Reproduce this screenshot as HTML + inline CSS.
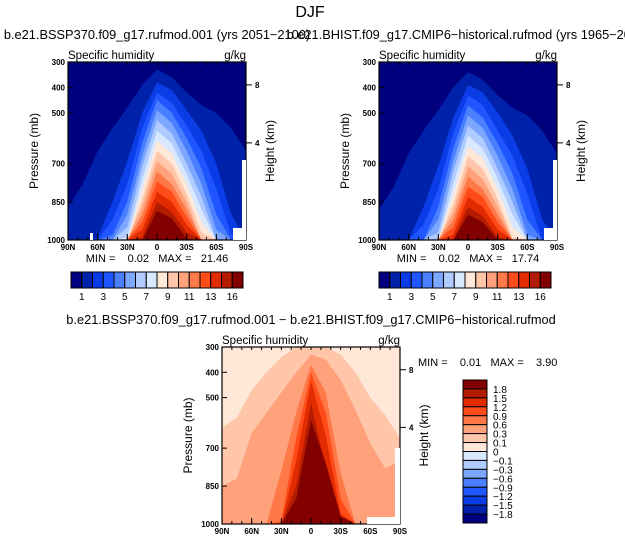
<!DOCTYPE html>
<html><head><meta charset="utf-8">
<style>
html,body{margin:0;padding:0;background:#fff;}
svg{display:block;font-family:"Liberation Sans",sans-serif;}
.pre{white-space:pre;}
</style></head>
<body>
<svg id="chart" width="625" height="545" viewBox="0 0 625 545" xmlns="http://www.w3.org/2000/svg"></svg>
<script>
// ---- data ----
const lats = [90,75,60,45,30,15,0,-15,-30,-45,-60,-75,-90];
const pressureTicks = [300,400,500,700,850,1000];
const latTicks = [90,60,30,0,-30,-60,-90];
const latTickLabels = ["90N","60N","30N","0","30S","60S","90S"];
const heightTicks = [{km:8,p:390},{km:4,p:618}];

const seqColors = ["#00007f","#0022aa","#0a3de6","#1f56ff","#4a80ff","#7da6ff","#b0cbff","#d7e8ff","#ffe8d8","#ffc6aa","#ffa27c","#ff7848","#ff4c18","#e32b00","#b41c00","#820000"];
const seqLabels = ["1","3","5","7","9","11","13","16"];

const ssp370Levels = [
 [870,780,650,560,480,390,330,360,420,470,500,560,650],
 [1000,1000,990,850,690,500,380,410,490,570,700,900,1000],
 [1000,1000,1000,920,780,560,420,460,550,650,800,980,1000],
 [1000,1000,1000,980,850,620,450,500,600,720,900,1000,1000],
 [1000,1000,1000,1000,900,670,490,540,650,780,960,1000,1000],
 [1000,1000,1000,1000,950,710,530,580,700,830,1000,1000,1000],
 [1000,1000,1000,1000,990,760,570,620,740,880,1000,1000,1000],
 [1000,1000,1000,1000,1000,800,610,660,780,930,1000,1000,1000],
 [1000,1000,1000,1000,1000,840,650,700,820,970,1000,1000,1000],
 [1000,1000,1000,1000,1000,870,690,740,850,1000,1000,1000,1000],
 [1000,1000,1000,1000,1000,900,730,780,880,1000,1000,1000,1000],
 [1000,1000,1000,1000,1000,930,770,810,910,1000,1000,1000,1000],
 [1000,1000,1000,1000,1000,960,810,850,940,1000,1000,1000,1000],
 [1000,1000,1000,1000,1000,990,850,890,970,1000,1000,1000,1000],
 [1000,1000,1000,1000,1000,1000,885,915,995,1000,1000,1000,1000]
];
const histLevels = [
 [880,790,660,570,490,400,340,370,430,480,510,570,660],
 [1000,1000,1000,870,710,520,390,420,500,590,720,920,1000],
 [1000,1000,1000,940,800,580,430,470,570,670,820,1000,1000],
 [1000,1000,1000,1000,870,640,470,520,620,740,920,1000,1000],
 [1000,1000,1000,1000,920,690,510,560,670,800,980,1000,1000],
 [1000,1000,1000,1000,970,730,550,600,720,850,1000,1000,1000],
 [1000,1000,1000,1000,1000,780,590,640,760,900,1000,1000,1000],
 [1000,1000,1000,1000,1000,820,630,680,800,950,1000,1000,1000],
 [1000,1000,1000,1000,1000,860,670,720,840,990,1000,1000,1000],
 [1000,1000,1000,1000,1000,890,710,760,870,1000,1000,1000,1000],
 [1000,1000,1000,1000,1000,920,750,800,900,1000,1000,1000,1000],
 [1000,1000,1000,1000,1000,950,790,830,930,1000,1000,1000,1000],
 [1000,1000,1000,1000,1000,980,830,870,960,1000,1000,1000,1000],
 [1000,1000,1000,1000,1000,1000,870,905,990,1000,1000,1000,1000],
 [1000,1000,1000,1000,1000,1000,900,930,1000,1000,1000,1000,1000]
];
const diffColors = ["#00007f","#0022aa","#0a3de6","#1f56ff","#4a80ff","#7da6ff","#b0cbff","#d7e8ff","#ffe8d8","#ffc6aa","#ffa27c","#ff7848","#ff4c18","#e32b00","#b41c00","#820000"];
const diffLabels = ["1.8","1.5","1.2","0.9","0.6","0.3","0.1","0","\u22120.1","\u22120.3","\u22120.6","\u22120.9","\u22121.2","\u22121.5","\u22121.8"];
const diffLevels = [
 [620,580,470,400,340,300,300,300,330,400,500,570,660],
 [850,820,640,560,480,400,330,350,430,550,680,780,750],
 [1000,1000,1000,1000,790,560,370,480,800,1000,1000,1000,1000],
 [1000,1000,1000,1000,990,660,400,560,900,1000,1000,1000,1000],
 [1000,1000,1000,1000,1000,750,435,650,960,1000,1000,1000,1000],
 [1000,1000,1000,1000,1000,850,520,780,1000,1000,1000,1000,1000],
 [1000,1000,1000,1000,1000,900,590,760,970,1000,1000,1000,1000]
];
const diffLevelColors = ["#ffc6aa","#ffa27c","#ff7848","#ff4c18","#e32b00","#b41c00","#820000"];

// ---- drawing ----
const NS="http://www.w3.org/2000/svg";
const svg=document.getElementById('chart');
function el(tag,attrs,parent){const e=document.createElementNS(NS,tag);for(const k in attrs)e.setAttribute(k,attrs[k]);(parent||svg).appendChild(e);return e;}
function txt(s,x,y,size,anchor,parent,extra){const t=el('text',Object.assign({x:x,y:y,'font-size':size,'text-anchor':anchor||'start',fill:'#000'},extra||{}),parent);t.textContent=s;return t;}

function panel(id,bx,by,w,h,levels,colors,bg,title,minmax,mmPos){
  const g=el('g',{});
  
  
  const xs=lat=>bx+(90-lat)/180*w;
  const ys=p=>by+(Math.min(p,1000)-300)/700*h;
  const clipId=id+'-clip';
  const cp=el('clipPath',{id:clipId},g);el('rect',{x:bx,y:by,width:w,height:h},cp);
  const bgR=el('rect',{x:bx,y:by,width:w,height:h,fill:bg},g);
  
  
  levels.forEach((lv,i)=>{
    let pts=lv.map((p,j)=>xs(lats[j]).toFixed(1)+','+ys(p).toFixed(1));
    pts.push(xs(-90)+','+(by+h));pts.push(xs(90)+','+(by+h));
    const poly=el('polygon',{points:pts.join(' '),fill:colors[i],'clip-path':'url(#'+clipId+')'},g);
    
    
  });
  el('rect',{x:bx,y:by,width:w,height:h,fill:'none',stroke:'#000','stroke-width':1.2},g);
  pressureTicks.forEach(p=>{
    const y=ys(p);
    el('line',{x1:bx,x2:bx+5,y1:y,y2:y,stroke:'#000'},g);
    const t=txt(String(p),bx-3,y+3,8,'end',g,{'font-weight':'bold'});
    
    
  });
  for(let lat=90;lat>=-90;lat-=10){const x=xs(lat);el('line',{x1:x,x2:x,y1:by,y2:by+3,stroke:'#000'},g);el('line',{x1:x,x2:x,y1:by+h,y2:by+h-3,stroke:'#000'},g);}
  latTicks.forEach((lat,i)=>{
    const x=xs(lat);
    el('line',{x1:x,x2:x,y1:by+h,y2:by+h-6,stroke:'#000'},g);
    const t=txt(latTickLabels[i],x,by+h+10,8,'middle',g,{'font-weight':'bold'});
    
    
  });
  heightTicks.forEach(ht=>{
    const y=ys(ht.p);
    el('line',{x1:bx+w,x2:bx+w+6,y1:y,y2:y,stroke:'#000'},g);
    const t=txt(String(ht.km),bx+w+9,y+3,8,'start',g,{'font-weight':'bold'});
    
    
  });
  const yl=txt('Pressure (mb)',0,0,12,'middle',g,{transform:'translate('+(bx-30)+','+(by+h/2)+') rotate(-90)'});
  
  
  const yr=txt('Height (km)',0,0,12,'middle',g,{transform:'translate('+(bx+w+28)+','+(by+h/2)+') rotate(-90)'});
  
  
  const lt=txt('Specific humidity',bx,by-3,11.5,'start',g);
  
  
  const ut=txt('g/kg',bx+w,by-3,11.5,'end',g);
  
  
  const tt=txt(title,bx+w/2,by-23,12.8,'middle',g);
  
  
  const mm=txt(minmax,mmPos[0],mmPos[1],11,mmPos[2],g,{'class':'pre'});
  
  
  return {g,xs,ys};
}

const title=txt('DJF',310,17,16,'middle');



const p1=panel('panel-ssp370',68,62,178,178,ssp370Levels,seqColors.slice(1),seqColors[0],'b.e21.BSSP370.f09_g17.rufmod.001 (yrs 2051\u22122100)','MIN =    0.02   MAX =   21.46',[157,262,'middle']);
el('rect',{x:242,y:160,width:4,height:80,fill:'#fff'},p1.g);
el('rect',{x:233,y:228,width:13,height:12,fill:'#fff'},p1.g);
el('rect',{x:90,y:233,width:3,height:7,fill:'#fff'},p1.g);
const p2=panel('panel-historical',379,62,178,178,histLevels,seqColors.slice(1),seqColors[0],'b.e21.BHIST.f09_g17.CMIP6\u2212historical.rufmod (yrs 1965\u22122014)','MIN =    0.02   MAX =   17.74',[468,262,'middle']);
el('rect',{x:553,y:160,width:4,height:80,fill:'#fff'},p2.g);
el('rect',{x:544,y:228,width:13,height:12,fill:'#fff'},p2.g);
const p3=panel('panel-difference',222,347,178,177,diffLevels,diffLevelColors,'#ffe8d8','b.e21.BSSP370.f09_g17.rufmod.001 \u2212 b.e21.BHIST.f09_g17.CMIP6\u2212historical.rufmod','MIN =    0.01   MAX =    3.90',[418,366,'start']);
el('rect',{x:395,y:448,width:5,height:76,fill:'#fff'},p3.g);
el('rect',{x:367,y:517,width:33,height:7,fill:'#fff'},p3.g);

function hbar(name,x0,y0,w,hh){
  const g=el('g',{});
  
  
  const bw=w/seqColors.length;
  seqColors.forEach((c,i)=>{
    const r=el('rect',{x:x0+i*bw,y:y0,width:bw,height:hh,fill:c,stroke:'#000','stroke-width':1},g);
    
    
  });
  seqLabels.forEach((l,k)=>{
    const t=txt(l,x0+(2*k+1)*bw,y0+hh+12,10,'middle',g);
    
    
  });
}
hbar('colorbar-ssp370',71,272,172,16);
hbar('colorbar-historical',379,272,172,16);

(function(){
  const g=el('g',{});
  
  
  const x0=463,y0=380,w=24,h=143;const bh=h/16;
  const rev=diffColors.slice().reverse();
  rev.forEach((c,i)=>{
    const r=el('rect',{x:x0,y:y0+i*bh,width:w,height:bh,fill:c,stroke:'#000','stroke-width':1},g);
    
    
  });
  diffLabels.forEach((l,k)=>{
    const t=txt(l,x0+30,y0+(k+1)*bh+4,10,'start',g);
    
    
  });
})();
</script>
</body></html>
